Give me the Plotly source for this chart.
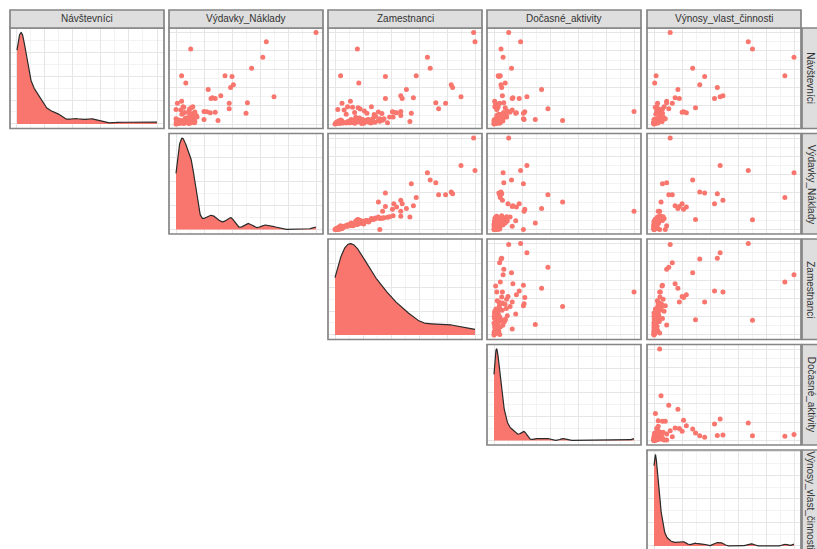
import numpy as np
import plotly.graph_objects as go

# Variable names (panel strips)
names = ["Návštevníci", "Výdavky_Náklady", "Zamestnanci",
         "Dočasné_aktivity", "Výnosy_vlast_činnosti"]

# Observations, one value per institution (relative units, 0-100)
navstevnici = [
    100, 90, 82, 73, 61, 53, 53, 52, 45, 43, 40, 38, 30, 23.5, 12, 17, 23, 14,
    4, 5, 6, 28, 28, 31, 23, 25, 16, 18, 13.5, 12.5, 5, 29, 13, 19,
    1.2, 2.0, 0.5, 1.8, 2.6, 1.5, 3.2, 0.9, 2.3, 1.1,
    2.9, 1.6, 0.3, 2.1, 3.8, 1.4, 4.5, 2.4, 1.7, 3.0,
    2.2, 5.5, 1.0, 4.2, 2.7, 6.8, 3.5, 0.7, 5.0, 1.9,
    7.6, 2.8, 2.5, 4.8, 1.3, 6.2, 3.4, 8.5, 2.0, 5.2,
    11.0, 12.8, 14.5, 10.5, 16.5, 13.2, 18.5, 11.8, 15.4, 19.0,
    12.0, 3.1, 6.0, 1.6, 7.8, 4.4, 1.9, 2.2, 1.4, 2.8,
    1.0, 3.6, 2.5, 1.7, 4.0, 2.1, 8.0, 9.5, 3.0,
]
vydavky = [
    100, 64.5, 10.5, 62, 54, 4, 35, 40, 7, 41, 39, 23, 70, 51, 50, 38, 38, 20,
    30, 7, 0, 25, 28, 32, 1, 4, 0, 11, 22, 24.5, 20, 26, 28, 5,
    0.8, 1.5, 0.3, 2.2, 0.2, 3.1, 2.5, 1.9, 3.6, 0.5,
    4.0, 1.6, 0.0, 0.4, 3.3, 1.6, 2.0, 4.4, 5.0, 5.8,
    4.6, 8.6, 5.2, 6.2, 8.4, 6.8, 4.9, 9.0, 6.5, 3.9,
    9.1, 5.5, 8.8, 9.5, 10.2, 11.0, 9.9, 12.4, 10.8, 8.0,
    4.2, 6.2, 9.2, 11.8, 9.7, 13.5, 5.6, 12.2, 3.4, 12.0,
    9.6, 12.0, 12.8, 13.2, 14.0, 12.6, 2.6, 0.9, 3.4, 8.8,
    5.9, 0.6, 9.0, 4.3, 5.1, 11.4, 15.0, 14.5, 13.5,
]
zamestnanci = [
    99, 100, 16, 66, 68, 4, 58, 36, 17, 83, 84, 51, 90, 72, 54.5, 74, 79, 47,
    31, 11.5, 32, 36, 48, 47, 5, 11, 2, 16.5, 41, 44, 34, 56, 42, 9,
    1.5, 3.0, 0.8, 4.5, 2.2, 6.0, 5.2, 3.5, 8.8, 0.4,
    9.5, 2.0, 0.0, 3.8, 4.8, 5.5, 4.0, 9.0, 11.0, 13.5,
    12.0, 15.0, 14.2, 16.8, 18.5, 17.5, 10.5, 19.0, 19.8, 12.8,
    14.8, 16.0, 21.5, 23.0, 25.5, 27.0, 22.4, 29.0, 26.4, 24.0,
    8.0, 14.0, 21.0, 28.0, 18.0, 31.0, 12.5, 33.5, 6.5, 26.0,
    22.8, 32.0, 35.0, 37.5, 39.0, 34.0, 2.8, 1.0, 8.0, 17.0,
    20.5, 2.5, 23.8, 10.0, 13.0, 28.5, 41.5, 47.0, 53.5,
]
docasne = [
    10.5, 19, 5, 6.5, 12.5, 3, 4.5, 3.5, 8, 5, 5.5, 34, 23.5, 7, 21, 38.5, 4, 100,
    49, 29.5, 21, 13, 18, 6, 1, 0.5, 2, 8, 22, 16, 21.5, 13.5, 10, 3,
    0.6, 1.2, 0.2, 2.0, 0.9, 3.0, 1.6, 0.4, 2.4, 4.1,
    1.8, 0.7, 0.0, 3.4, 2.7, 1.1, 0.5, 4.6, 1.4, 2.2,
    0.8, 3.6, 1.9, 5.2, 0.3, 2.9, 6.3, 1.0, 4.0, 2.5,
    7.4, 1.5, 2.0, 3.1, 0.9, 5.8, 1.3, 8.8, 2.6, 0.4,
    3.3, 6.8, 9.5, 4.4, 2.1, 11.5, 1.7, 7.9, 13.0, 0.6,
    15.5, 3.8, 6.0, 2.3, 9.0, 4.9, 0.1, 0.3, 0.5, 1.1,
    0.2, 2.8, 0.8, 1.6, 0.0, 1.4, 5.5, 2.0, 1.2,
]
vynosy = [
    11.5, 67, 70, 99.5, 27.5, 1.5, 93, 36, 0.5, 32.5, 45, 17, 47, 9, 6, 10.5, 13, 4,
    5, 1, 8, 18, 43, 49, 2.5, 9, 4, 29.5, 21, 23, 3, 15, 20, 2,
    0.2, 0.5, 0.0, 0.8, 0.3, 1.1, 0.6, 0.1, 1.5, 0.0,
    2.1, 0.4, 0.0, 0.2, 0.9, 0.0, 1.8, 0.7, 0.3, 1.0,
    0.5, 2.6, 0.1, 1.4, 0.6, 3.2, 0.2, 0.9, 2.2, 0.0,
    3.8, 0.4, 1.2, 0.8, 2.8, 4.3, 0.5, 5.0, 1.6, 0.0,
    1.3, 2.0, 3.5, 4.8, 6.0, 2.7, 0.9, 5.4, 1.9, 7.2,
    3.0, 5.6, 4.0, 2.4, 6.5, 3.3, 0.0, 0.1, 0.0, 0.2,
    0.0, 0.3, 0.6, 0.1, 0.4, 1.0, 4.2, 4.5, 5.7,
]

data = [np.array(v, dtype=float) for v in
        (navstevnici, vydavky, zamestnanci, docasne, vynosy)]

# Styling
W, H = 817, 549
RED = "#F8766D"
BORDER = "#858585"
STRIP_FILL = "#dedede"
GRID_MAJOR = "#e6e6e6"
GRID_MINOR = "#f3f3f3"
FONT = "Liberation Sans, Arial, sans-serif"

col_left = [10, 169, 328, 487, 647]
col_w = 154
row_top = [28, 133.5, 239, 344.5, 450]
row_h = 100.5
strip_top, strip_h = 10, 18
rstrip_left, rstrip_w = 802, 18


def kde(x, npts=512):
    """Gaussian kernel density with Silverman's rule (bw.nrd0)."""
    n = len(x)
    sd = x.std(ddof=1)
    q75, q25 = np.percentile(x, [75, 25])
    lo = min(sd, (q75 - q25) / 1.34)
    bw = 0.9 * lo * n ** -0.2
    grid = np.linspace(x.min(), x.max(), npts)
    z = (grid[:, None] - x[None, :]) / bw
    dens = np.exp(-0.5 * z ** 2).sum(axis=1) / (n * bw * np.sqrt(2 * np.pi))
    return grid, dens


def padded(lo, hi, f=0.05):
    span = hi - lo
    return lo - f * span, hi + f * span


fig = go.Figure()
shapes, annotations = [], []
layout_axes = {}
k = 0

for i in range(5):
    for j in range(i, 5):
        k += 1
        xa, ya = f"x{k}", f"y{k}"
        xv = data[j]
        x_rng = list(padded(xv.min(), xv.max()))

        if i == j:
            gx, gy = kde(xv)
            fig.add_trace(go.Scatter(
                x=gx, y=gy, mode="lines", fill="tozeroy",
                fillcolor=RED, line=dict(color="#2a2a2a", width=1.2),
                xaxis=xa, yaxis=ya, hoverinfo="skip"))
            y_rng = [-0.05 * gy.max(), 1.05 * gy.max()]
        else:
            yv = data[i]
            fig.add_trace(go.Scatter(
                x=xv, y=yv, mode="markers",
                marker=dict(color=RED, size=5, line=dict(width=0)),
                xaxis=xa, yaxis=ya))
            y_rng = list(padded(yv.min(), yv.max()))

        # pixel box of the panel
        x0p, x1p = col_left[j], col_left[j] + col_w
        y0p, y1p = row_top[i], row_top[i] + row_h
        # keep the domain inside the page; trim the range where it is cut
        if y1p > H:
            frac = (H - y0p) / (y1p - y0p)
            y_rng[0] = y_rng[1] - frac * (y_rng[1] - y_rng[0])
            y1p_dom = H
        else:
            y1p_dom = y1p

        ax_common = dict(showticklabels=False, ticks="", zeroline=False,
                         showline=False, showgrid=True, gridcolor=GRID_MAJOR,
                         gridwidth=1, fixedrange=True)
        layout_axes["xaxis" if k == 1 else f"xaxis{k}"] = dict(
            ax_common, domain=[x0p / W, x1p / W], range=x_rng, anchor=ya,
            tick0=0, dtick=20,
            minor=dict(showgrid=True, gridcolor=GRID_MINOR, dtick=10))
        if i == j:
            ystep = (y_rng[1] - y_rng[0]) / 4.2
            ygrid = dict(tick0=0, dtick=ystep,
                         minor=dict(showgrid=True, gridcolor=GRID_MINOR,
                                    dtick=ystep / 2))
        else:
            ygrid = dict(tick0=0, dtick=20,
                         minor=dict(showgrid=True, gridcolor=GRID_MINOR,
                                    dtick=10))
        layout_axes["yaxis" if k == 1 else f"yaxis{k}"] = dict(
            ax_common, domain=[1 - y1p_dom / H, 1 - y0p / H], range=y_rng,
            anchor=xa, **ygrid)

        # panel border
        shapes.append(dict(type="rect", xref="paper", yref="paper",
                           x0=x0p / W, x1=x1p / W,
                           y0=1 - y1p / H, y1=1 - y0p / H,
                           line=dict(color=BORDER, width=1.7),
                           fillcolor="rgba(0,0,0,0)", layer="above"))

# top strips with variable names
for j, name in enumerate(names):
    x0p, x1p = col_left[j], col_left[j] + col_w
    shapes.append(dict(type="rect", xref="paper", yref="paper",
                       x0=x0p / W, x1=x1p / W,
                       y0=1 - (strip_top + strip_h) / H, y1=1 - strip_top / H,
                       line=dict(color=BORDER, width=1.7),
                       fillcolor=STRIP_FILL, layer="above"))
    annotations.append(dict(text=name, xref="paper", yref="paper",
                            x=(x0p + x1p) / 2 / W,
                            y=1 - (strip_top + strip_h / 2) / H,
                            showarrow=False, xanchor="center", yanchor="middle",
                            font=dict(family=FONT, size=10, color="#333333")))

# right strips with variable names
for i, name in enumerate(names):
    y0p, y1p = row_top[i], row_top[i] + row_h
    shapes.append(dict(type="rect", xref="paper", yref="paper",
                       x0=rstrip_left / W, x1=(rstrip_left + rstrip_w) / W,
                       y0=1 - y1p / H, y1=1 - y0p / H,
                       line=dict(color=BORDER, width=1.7),
                       fillcolor=STRIP_FILL, layer="above"))
    annotations.append(dict(text=name, xref="paper", yref="paper",
                            x=(rstrip_left + rstrip_w / 2) / W,
                            y=1 - (y0p + y1p) / 2 / H,
                            showarrow=False, xanchor="center", yanchor="middle",
                            textangle=90,
                            font=dict(family=FONT, size=10, color="#333333")))

fig.update_layout(
    width=W, height=H,
    margin=dict(l=0, r=0, t=0, b=0),
    paper_bgcolor="white", plot_bgcolor="white",
    showlegend=False,
    shapes=shapes, annotations=annotations,
    **layout_axes,
)

fig.write_html("out.html")
